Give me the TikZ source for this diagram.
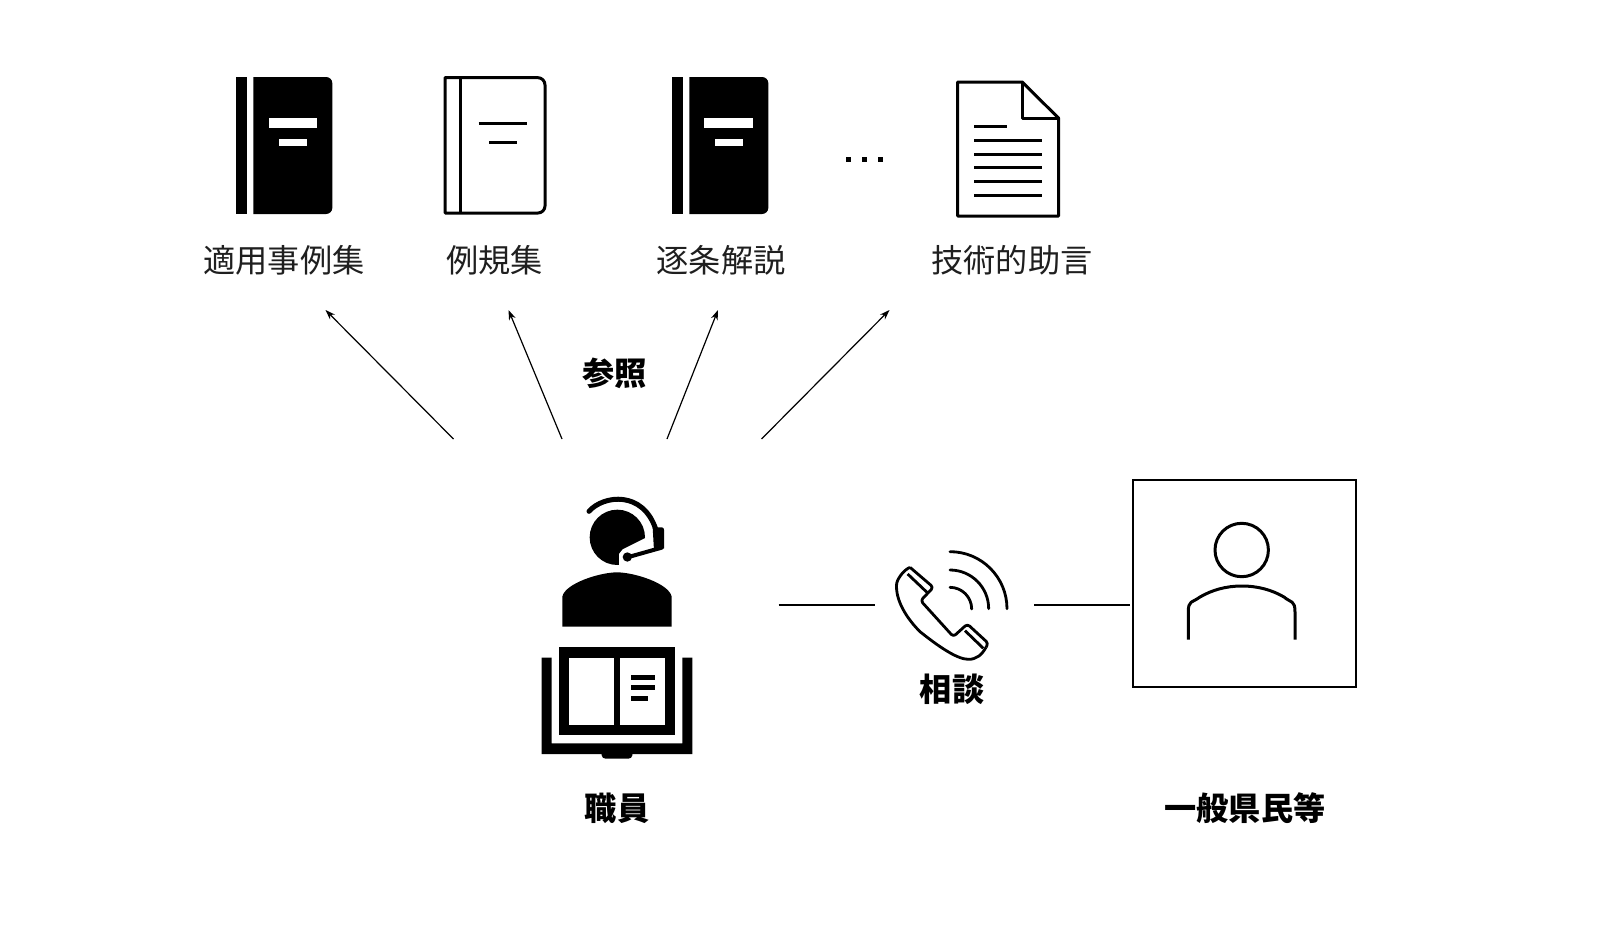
\documentclass[tikz,border=0pt]{standalone}
\usepackage{fontspec}
\setmainfont{Noto Sans CJK JP}
\usetikzlibrary{arrows.meta}
\tikzset{
  lbl/.style={inner sep=0pt,font=\fontsize{32.2}{33}\selectfont,text=black!88},
  blbl/.style={inner sep=0pt,font=\fontsize{32.2}{33}\selectfont\bfseries,text=black},
  ref/.style={line width=1.2pt,-{Stealth[length=10pt,width=7pt]}},
  conn/.style={line width=1.5pt},
  icon/.style={line width=3pt,line join=round},
  thin icon/.style={line width=2.8pt,line join=round},
  pagebar/.style={fill=white,draw=none},
  ink/.style={fill=black,draw=none}
}
\begin{document}
\begin{tikzpicture}[x=1pt,y=-1pt]
\useasboundingbox[fill=white] (0,0) rectangle (1620,929);

% solid book 1
\fill[ink] (235.7,77) rectangle (246.7,214);
\fill[ink] (253.3,77) -- (326,77) to[out=0,in=90] (332.3,83) -- (332.3,208) to[out=-90,in=0] (326,214) -- (253.3,214) -- cycle;
\fill[pagebar] (268.7,118.3) rectangle (316.7,128.3);
\fill[pagebar] (279,139) rectangle (306.7,145.7);

% outline book
\draw[icon] (445,77.7) -- (538,77.7) to[out=0,in=90] (545,85) -- (545,206) to[out=-90,in=0] (538,213) -- (445,213) -- cycle;
\draw[icon] (460,77.7) -- (460,213);
\draw[icon] (478.7,123) -- (526.7,123);
\draw[icon] (489,142) -- (516.7,142);

% solid book 3
\fill[ink] (672.3,77) rectangle (683,214);
\fill[ink] (689.3,77) -- (762,77) to[out=0,in=90] (768.3,83) -- (768.3,208) to[out=-90,in=0] (762,214) -- (689.3,214) -- cycle;
\fill[pagebar] (704.3,118.3) rectangle (753,128.3);
\fill[pagebar] (715.3,139) rectangle (742.7,145.7);

% dots
\fill[ink] (845.5,156.5) rectangle (850.5,161.5);
\fill[ink] (861.5,156.5) rectangle (866.5,161.5);
\fill[ink] (877.5,156.5) rectangle (882.5,161.5);

% document
\draw[icon] (957.7,82) -- (1022.3,82) -- (1058.7,118.3) -- (1058.7,216) -- (957.7,216) -- cycle;
\draw[icon] (1022.3,82) -- (1022.3,118.3) -- (1058.7,118.3);
\draw[icon] (974.3,126.7) -- (1006.7,126.7);
\foreach \yy in {140.3,154,167.7,181.3,195} \draw[icon] (974.3,\yy) -- (1042.3,\yy);

% top labels
\node[lbl] (l1) at (284,260.5) {適用事例集};
\node[lbl] (l2) at (494.5,260.5) {例規集};
\node[lbl] (l3) at (721,260.5) {逐条解説};
\node[lbl] (l4) at (1012,260.5) {技術的助言};
\node[blbl] (sansho) at (614.5,373) {参照};

% arrows
\coordinate (a1s) at (453.5,439); \coordinate (a1e) at (325.5,310);
\coordinate (a2s) at (562,439);   \coordinate (a2e) at (508.5,310);
\coordinate (a3s) at (667,439);   \coordinate (a3e) at (718,310);
\coordinate (a4s) at (761.5,439); \coordinate (a4e) at (889.5,310);
\draw[ref] (a1s) -- (a1e);
\draw[ref] (a2s) -- (a2e);
\draw[ref] (a3s) -- (a3e);
\draw[ref] (a4s) -- (a4e);

% staff with headset and open book
\begin{scope}[xshift=520pt,yshift=-480pt,x=0.33333pt,y=-0.33333pt]
  \fill[ink] (292,172) circle[radius=83];
  \fill[white] (380,172) -- (308,208) -- (297,222) -- (297,262) -- (400,262) -- (400,172) -- cycle;
  \draw[line width=5pt,line cap=round] (207,94) .. controls (250,45) and (370,30) .. (408,150);
  \fill[ink] (398,142) -- (426,142) to[out=0,in=90] (432,150) -- (432,205) -- (402,212) -- cycle;
  \draw[line width=4pt,line cap=round] (425,203) -- (322,232);
  \fill[ink] (322,231) circle[radius=14];
  \fill[ink] (127,440) -- (127,350) .. controls (135,310) and (240,277) .. (291,277) .. controls (342,277) and (447,310) .. (455,350) -- (455,440) -- cycle;
  % open book
  \fill[ink] (65,533) -- (95,533) -- (95,790) -- (487,790) -- (487,533) -- (517,533) -- (517,822) -- (337,822) -- (337,826) to[out=-90,in=0] (325,836) -- (257,836) to[out=180,in=-90] (245,826) -- (245,822) -- (65,822) -- cycle;
  \fill[ink] (116,502) rectangle (465,765);
  \fill[white] (147,533) rectangle (281,735);
  \fill[white] (301,533) rectangle (435,735);
  \fill[ink] (333,585) rectangle (404,600);
  \fill[ink] (333,616) rectangle (404,631);
  \fill[ink] (333,648) rectangle (383,663);
\end{scope}
\node[blbl] (shokuin) at (617,808.5) {職員};

% phone
\begin{scope}[xshift=770pt,yshift=-530pt,x=0.33333pt,y=-0.33333pt]
  \draw[thin icon,rounded corners=3pt] (420,112) -- (490,172) -- (452,212) -- (550,320) -- (592,282) -- (655,340) -- (648,352);
  \draw[thin icon] (648,352) .. controls (635,375) and (620,388) .. (595,388)
     .. controls (560,388) and (500,345) .. (450,305)
     .. controls (410,265) and (375,210) .. (380,160)
     .. controls (385,140) and (405,118) .. (420,112);
  \draw[thin icon] (413,132) -- (472,188);
  \draw[thin icon] (585,302) -- (640,355);
  \draw[thin icon,line cap=round] (540,172) arc[start angle=-90,end angle=0,radius=65];
  \draw[thin icon,line cap=round] (540,120) arc[start angle=-90,end angle=0,radius=116];
  \draw[thin icon,line cap=round] (540,65) arc[start angle=-90,end angle=0,radius=171];
\end{scope}
\node[blbl] (sodan) at (952,689.5) {相談};

% connector lines
\coordinate (c1s) at (778.7,605); \coordinate (c1e) at (875,605);
\coordinate (c2s) at (1034,605);
\draw[conn] (c1s) -- (c1e);

% citizen box
\node[draw,line width=2pt,minimum width=222.7pt,minimum height=207.3pt,inner sep=0pt] (citizen) at (1244.7,583.7) {};
\coordinate (c2e) at (1130,605);
\draw[conn] (c2s) -- (c2e);
\draw[icon] (1241.7,550) circle[radius=26.7];
\draw[icon] (1188.3,639.5) -- (1188.3,612) .. controls (1188.3,600) and (1192,603) .. (1200,597)
  .. controls (1212,590) and (1226,586) .. (1241.7,586)
  .. controls (1258,586) and (1272,590) .. (1284,597)
  .. controls (1291,603) and (1295,600) .. (1295,612) -- (1295,639.5);
\node[blbl] (kenmin) at (1245,808.5) {一般県民等};
\end{tikzpicture}
\end{document}
